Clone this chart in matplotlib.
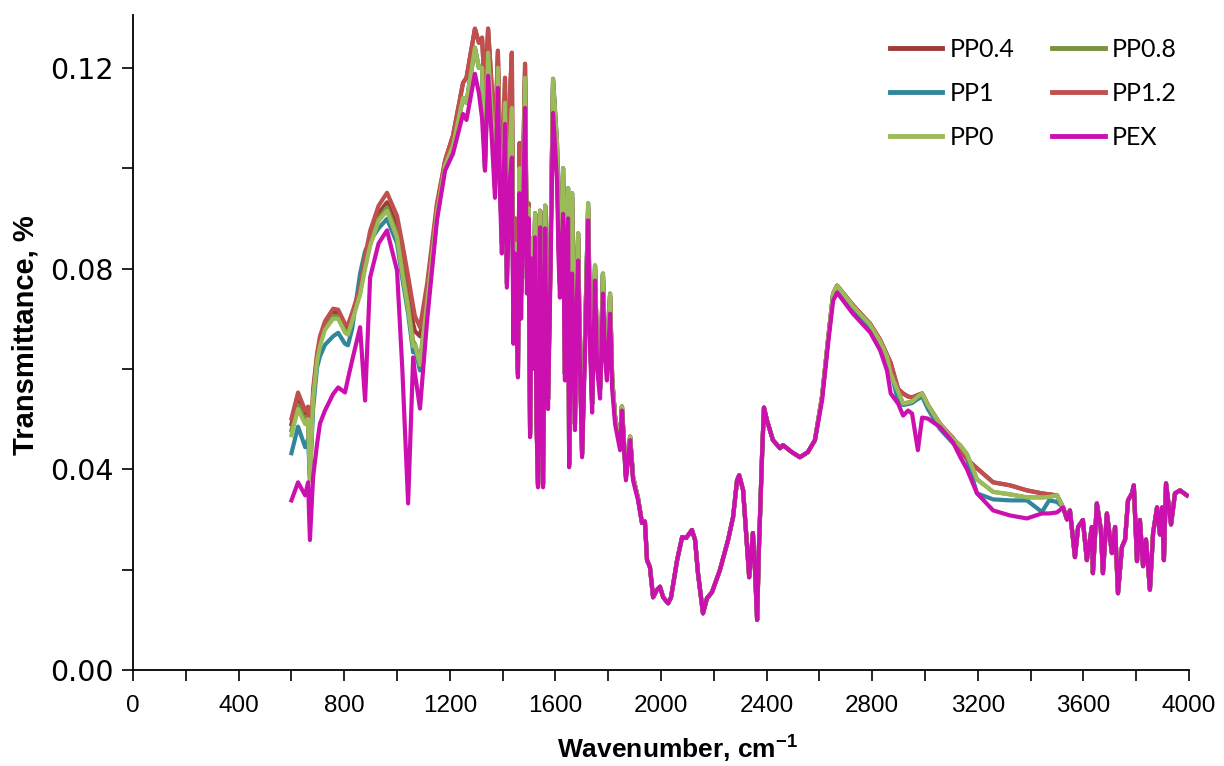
import numpy as np
import matplotlib
matplotlib.use('Agg')
import matplotlib.pyplot as plt
from matplotlib.ticker import MultipleLocator, FormatStrFormatter

plt.rcParams['mathtext.fontset'] = 'custom'
plt.rcParams['mathtext.rm'] = 'Liberation Sans'
plt.rcParams['mathtext.bf'] = 'Liberation Sans:bold'

# ---- data ----
# low wavenumber part (600-1151 cm-1), each series differs
low_wn = [600, 625, 652, 663, 670, 682, 697, 708, 727, 758, 777, 803, 814, 830,
          860, 879, 898, 930, 962, 1000, 1020, 1042, 1061, 1068, 1087, 1114, 1151]
low_pex = [.0338, .0374, .0348, .0374, .0259, .0384, .0450, .0491, .0517, .0550, .0563, .0553, .0580, .0617,
           .0683, .0537, .0782, .0850, .0876, .0796, .0600, .0332, .0623, .0590, .0521, .0697, .0896]
low_pp12 = [.0501, .0553, .0517, .0525, .0400, .0560, .0631, .0665, .0695, .0720, .0718, .0690, .0688, .0712,
            .0762, .0825, .0875, .0925, .0951, .0905, .0850, .0785, .0725, .0705, .0683, .0770, .0930]
low_pp04 = [.0490, .0540, .0505, .0515, .0390, .0550, .0625, .0655, .0688, .0712, .0712, .0684, .0680, .0705,
            .0756, .0810, .0860, .0910, .0932, .0885, .0825, .0760, .0690, .0675, .0665, .0755, .0922]
low_pp08 = [.0478, .0528, .0498, .0508, .0380, .0545, .0620, .0650, .0682, .0706, .0705, .0677, .0672, .0700,
            .0752, .0805, .0852, .0900, .0922, .0870, .0800, .0730, .0655, .0650, .0615, .0740, .0915]
low_pp0 = [.0468, .0520, .0490, .0500, .0378, .0540, .0615, .0645, .0678, .0700, .0700, .0672, .0668, .0695,
           .0748, .0800, .0845, .0895, .0915, .0862, .0790, .0720, .0645, .0648, .0608, .0732, .0910]
low_pp1 = [.0432, .0485, .0444, .0460, .0380, .0520, .0603, .0625, .0648, .0665, .0672, .0650, .0647, .0680,
           .0790, .0835, .0855, .0880, .0899, .0850, .0780, .0710, .0633, .0640, .0597, .0716, .0900]

# noisy band 1182-1913 cm-1
band_wn = [1182, 1212, 1250, 1263, 1295, 1310, 1322, 1333, 1345, 1360, 1371, 1382, 1390, 1397, 1409, 1416,
           1428, 1435, 1441, 1447, 1458, 1464, 1470, 1485, 1492, 1498, 1504, 1510, 1515, 1523, 1528, 1534,
           1542, 1547, 1553, 1561, 1566, 1572, 1580, 1591, 1606, 1612, 1617, 1629, 1636, 1642, 1648, 1652,
           1658, 1663, 1674, 1680, 1686, 1693, 1701, 1712, 1724, 1731, 1739, 1750, 1758, 1769, 1780, 1788,
           1795, 1807, 1815, 1826, 1845, 1852, 1867, 1883, 1894, 1913]
band_pex = [.0995, .1029, .1108, .1096, .1188, .1150, .1100, .0995, .1184, .1050, .0941, .1160, .0950, .0830,
            .1088, .0762, .0980, .1021, .0650, .0830, .0583, .0950, .0700, .1120, .0750, .0900, .0464, .0820,
            .0600, .0862, .0500, .0364, .0882, .0600, .0364, .0880, .0650, .0520, .0750, .1110, .0975, .0820,
            .0742, .0909, .0577, .0850, .0900, .0404, .0700, .0790, .0478, .0720, .0816, .0600, .0424, .0630,
            .0896, .0650, .0513, .0776, .0600, .0541, .0750, .0620, .0577, .0710, .0560, .0490, .0438, .0517,
            .0378, .0458, .0378, .0338]
band_pp = [.1005, .1045, .1140, .1130, .1240, .1200, .1200, .1000, .1230, .1090, .0960, .1200, .0980, .0850,
           .1130, .0770, .1050, .1120, .0660, .0850, .0590, .1000, .0750, .1180, .0780, .0920, .0470, .0860,
           .0610, .0910, .0510, .0370, .0915, .0620, .0370, .0925, .0670, .0540, .0780, .1178, .1050, .0860,
           .0780, .1000, .0590, .0900, .0960, .0410, .0760, .0950, .0490, .0760, .0870, .0620, .0430, .0660,
           .0930, .0680, .0530, .0806, .0620, .0560, .0790, .0640, .0600, .0750, .0580, .0505, .0445, .0525,
           .0385, .0465, .0385, .0342]
band_red = [.1015, .1065, .1170, .1180, .1278, .1250, .1260, .1150, .1278, .1150, .1050, .1234, .1050, .0950,
            .1180, .0800, .1150, .1230, .0680, .0900, .0600, .1050, .0800, .1208, .0800, .0930, .0480, .0860,
            .0610, .0910, .0510, .0370, .0915, .0620, .0370, .0925, .0670, .0540, .0780, .1170, .1040, .0850,
            .0770, .0990, .0590, .0890, .0950, .0410, .0750, .0940, .0490, .0750, .0860, .0620, .0430, .0660,
            .0920, .0680, .0530, .0800, .0620, .0560, .0785, .0640, .0600, .0745, .0580, .0505, .0445, .0525,
            .0385, .0465, .0385, .0342]

# shared part 1928-2583 cm-1 (all series overlap)
mid_wn = [1928, 1939, 1947, 1958, 1970, 1985, 1996, 2008, 2027, 2038, 2061, 2080, 2095, 2117, 2129,
          2140, 2159, 2174, 2193, 2223, 2254, 2273, 2288, 2296, 2311, 2326, 2334, 2348, 2356, 2364,
          2371, 2383, 2390, 2401, 2424, 2451, 2462, 2496, 2526, 2556, 2583]
mid_t = [.0293, .0296, .0219, .0205, .0145, .0160, .0166, .0145, .0133, .0145, .0219, .0265, .0263, .0279, .0259,
         .0193, .0113, .0143, .0155, .0199, .0259, .0305, .0378, .0388, .0358, .0245, .0185, .0273, .0200, .0100,
         .0245, .0432, .0523, .0498, .0458, .0442, .0448, .0434, .0424, .0434, .0458]

# 2610-3500 cm-1, groups differ
hi_wn = [2610, 2633, 2652, 2667, 2727, 2792, 2830, 2856, 2870, 2898, 2917, 2936, 2951, 2973, 2989,
         3011, 3057, 3106, 3133, 3159, 3197, 3258, 3322, 3386, 3443, 3470, 3500]
hi_pex = [.0537, .0651, .0736, .0752, .0710, .0673, .0637, .0597, .0551, .0531, .0507, .0517, .0511, .0438, .0503,
          .0501, .0484, .0454, .0425, .0400, .0352, .0318, .0308, .0302, .0312, .0312, .0314]
hi_pp0 = [.0545, .0660, .0750, .0766, .0725, .0688, .0655, .0625, .0590, .0555, .0531, .0533, .0535, .0545, .0551,
          .0528, .0490, .0460, .0448, .0430, .0380, .0355, .0350, .0344, .0344, .0345, .0348]
hi_pp1 = [.0545, .0658, .0748, .0762, .0720, .0682, .0648, .0610, .0597, .0535, .0528, .0530, .0532, .0540, .0545,
          .0520, .0480, .0452, .0438, .0420, .0352, .0340, .0338, .0338, .0315, .0338, .0335]
hi_red = [.0545, .0660, .0750, .0766, .0727, .0690, .0658, .0628, .0612, .0560, .0551, .0545, .0543, .0548, .0551,
          .0528, .0490, .0462, .0442, .0420, .0402, .0374, .0368, .0358, .0352, .0350, .0348]

# noisy tail 3523-3992 cm-1 (all series overlap)
tail_wn = [3523, 3538, 3549, 3568, 3580, 3598, 3613, 3632, 3636, 3651, 3666, 3674, 3689, 3708, 3720,
           3731, 3746, 3758, 3769, 3784, 3791, 3803, 3814, 3826, 3837, 3852, 3864, 3879, 3890, 3898,
           3905, 3913, 3921, 3932, 3947, 3966, 3992]
tail_t = [.0324, .0300, .0318, .0225, .0285, .0299, .0219, .0285, .0193, .0332, .0280, .0193, .0312, .0233, .0285,
          .0153, .0245, .0260, .0338, .0352, .0368, .0217, .0299, .0207, .0260, .0160, .0273, .0324, .0270, .0324,
          .0219, .0372, .0338, .0290, .0352, .0358, .0348]

names = ['PP0.4', 'PP0.8', 'PP1', 'PP1.2', 'PP0', 'PEX']
colors = ['#9E3A37', '#77933C', '#31869B', '#C0504D', '#9BBB59', '#CC10B0']
parts = {
    'PP0.4': (low_pp04, band_red, hi_red),
    'PP0.8': (low_pp08, band_pp, hi_pp0),
    'PP1': (low_pp1, band_pp, hi_pp1),
    'PP1.2': (low_pp12, band_red, hi_red),
    'PP0': (low_pp0, band_pp, hi_pp0),
    'PEX': (low_pex, band_pex, hi_pex),
}
wn_all = np.concatenate([low_wn, band_wn, mid_wn, hi_wn, tail_wn])

fig = plt.figure(figsize=(12.24, 7.66), dpi=100)
ax = fig.add_axes([0.1087, 0.1253, 0.8627, 0.855])

lines = []
for name, col in zip(names, colors):
    lo, band, hi = parts[name]
    y = np.concatenate([lo, band, mid_t, hi, tail_t])
    ln, = ax.plot(wn_all, y, color=col, lw=3.0, label=name, solid_joinstyle='round')
    lines.append(ln)

ax.set_xlim(0, 4000)
ax.set_ylim(0, 0.1305)
ax.xaxis.set_major_locator(MultipleLocator(400))
ax.xaxis.set_minor_locator(MultipleLocator(200))
ax.yaxis.set_major_locator(MultipleLocator(0.04))
ax.yaxis.set_minor_locator(MultipleLocator(0.02))
ax.yaxis.set_major_formatter(FormatStrFormatter('%.2f'))
for s in ['top', 'right']:
    ax.spines[s].set_visible(False)
for s in ['left', 'bottom']:
    ax.spines[s].set_linewidth(1.3)
ax.tick_params(which='both', direction='out', length=8, width=1.2, color='black')
ax.tick_params(axis='x', pad=10, labelsize=17.5, labelfontfamily='Liberation Sans')
ax.tick_params(axis='y', pad=6, labelsize=20.5, labelfontfamily='DejaVu Sans')

ax.set_xlabel('Wavenumber, cm$^{\\mathbf{-1}}$', family='Liberation Sans', fontsize=19,
              fontweight='bold', va='center')
ax.set_ylabel('Transmittance, %', family='Liberation Sans', fontsize=21, fontweight='bold')
ax.xaxis.set_label_coords(0.516, -0.119)
ax.yaxis.set_label_coords(-0.089, 0.512)

order = [0, 2, 4, 1, 3, 5]
leg = ax.legend([lines[i] for i in order], [names[i] for i in order], ncol=2, frameon=False,
                loc='upper right', bbox_to_anchor=(1.01, 1.0), prop={'family': 'Lato', 'size': 18},
                handlelength=2.1, columnspacing=1.5, labelspacing=0.85, handletextpad=0.3)
for h in leg.get_lines():
    h.set_linewidth(3.5)

fig.savefig('out.png', dpi=100)
